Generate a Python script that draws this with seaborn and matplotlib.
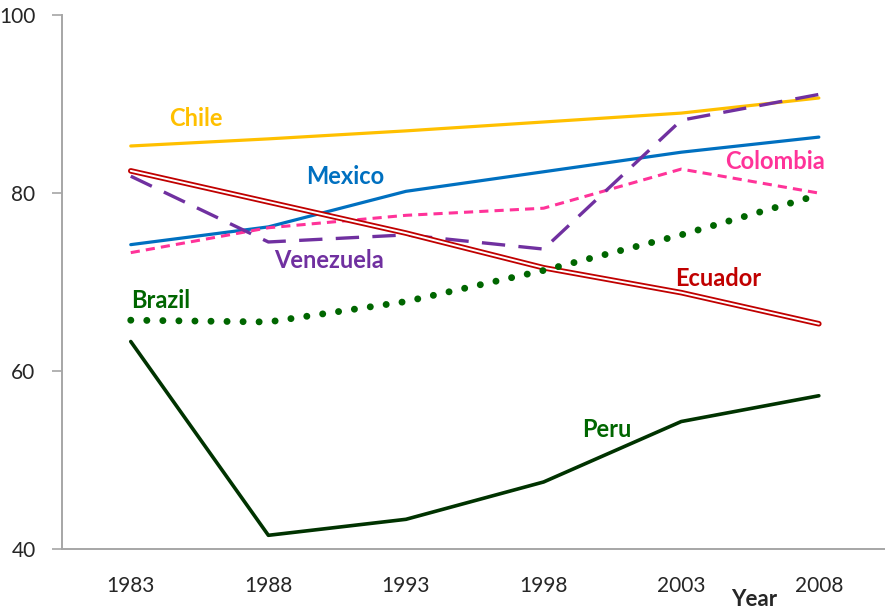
import pandas as pd
import seaborn as sns
import matplotlib.pyplot as plt

years = ["1983", "1988", "1993", "1998", "2003", "2008"]
chile = [85.3, 86.1, 87.0, 88.0, 89.0, 90.7]
mexico = [74.2, 76.2, 80.2, 82.4, 84.6, 86.3]
colombia = [73.3, 76.1, 77.5, 78.3, 82.7, 80.0]
venezuela = [81.9, 74.5, 75.3, 73.7, 88.2, 91.1]
ecuador = [82.5, 79.0, 75.5, 71.6, 68.8, 65.3]
brazil = [65.7, 65.5, 67.8, 71.3, 75.3, 79.8]
peru = [63.3, 41.5, 43.3, 47.5, 54.3, 57.2]

sns.set_theme(style="white")
plt.rcParams['font.family'] = ['Lato', 'DejaVu Sans']

fig, ax = plt.subplots(figsize=(8.85, 6.13), dpi=100)
fig.subplots_adjust(left=0.07, right=1.003, top=0.975, bottom=0.105)

pos = list(range(len(years)))
df = pd.DataFrame({'pos': pos, 'Chile': chile, 'Mexico': mexico, 'Colombia': colombia,
                   'Venezuela': venezuela, 'Ecuador': ecuador, 'Brazil': brazil, 'Peru': peru})

# 1 plain lines
sns.lineplot(data=df, x='pos', y='Chile', color='#FFC000', lw=2.3, ax=ax)
sns.lineplot(data=df, x='pos', y='Mexico', color='#0070C0', lw=2.3, ax=ax)
sns.lineplot(data=df, x='pos', y='Peru', color='#003300', lw=2.6, ax=ax)

# 2 dashed ones
l = sns.lineplot(data=df, x='pos', y='Colombia', color='#FF3399', lw=2.2, ax=ax).lines[-1]
l.set_dashes((3, 2))
l = sns.lineplot(data=df, x='pos', y='Venezuela', color='#7030A0', lw=2.4, ax=ax).lines[-1]
l.set_dashes((7, 4))

# 3 Ecuador double line (red with white core)
sns.lineplot(data=df, x='pos', y='Ecuador', color='#C00000', lw=4.0, ax=ax)
ax.lines[-1].set_solid_capstyle('round')
sns.lineplot(data=df, x='pos', y='Ecuador', color='white', lw=1.4, ax=ax)

# 4 Brazil dotted
l = sns.lineplot(data=df, x='pos', y='Brazil', color='#006600', lw=5.0, ax=ax).lines[-1]
l.set_dashes((0.01, 2.3))
l.set_dash_capstyle('round')

# labels
lab = dict(fontsize=17, fontweight='bold', ha='center', va='center')
ax.text(0.47, 88.4, 'Chile', color='#FFC000', **lab)
ax.text(1.56, 81.9, 'Mexico', color='#0070C0', **lab)
ax.text(4.68, 83.5, 'Colombia', color='#FF3399', **lab)
ax.text(1.44, 72.4, 'Venezuela', color='#7030A0', **lab)
ax.text(4.27, 70.4, 'Ecuador', color='#C00000', **lab)
ax.text(0.22, 67.9, 'Brazil', color='#006600', **lab)
ax.text(3.46, 53.4, 'Peru', color='#006600', **lab)

ax.set_xlim(-0.5, 5.5)
ax.set_ylim(40, 100)
ax.set_xticks(pos)
ax.set_xticklabels(years)
ax.set_yticks([40, 60, 80, 100])
ax.tick_params(axis='x', length=0, pad=20, labelsize=15)
ax.tick_params(axis='y', length=7, width=1.2, color='#A6A6A6', direction='out', left=True, pad=12, labelsize=15)
ax.set_ylabel('')
ax.set_xlabel('Year', fontsize=16, fontweight='bold', va='top')
ax.xaxis.set_label_coords(0.838, -0.076)

sns.despine(ax=ax)
for s in ['left', 'bottom']:
    ax.spines[s].set_color('#A6A6A6')
    ax.spines[s].set_linewidth(1.4)

fig.savefig('out.png', dpi=100)
